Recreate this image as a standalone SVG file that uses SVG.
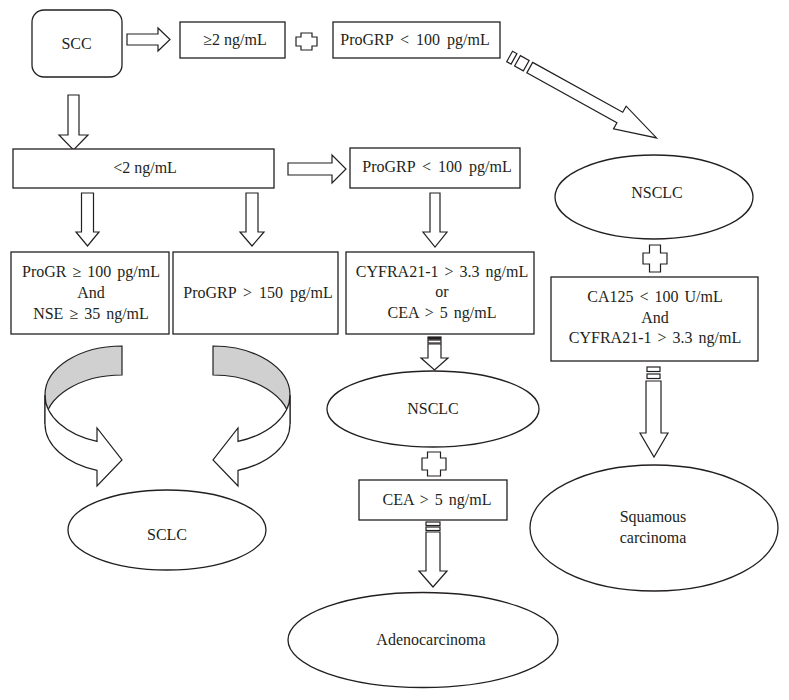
<svg xmlns="http://www.w3.org/2000/svg" width="789" height="700" viewBox="0 0 789 700">
<style>
.box{fill:#fff;stroke:#231f20;stroke-width:1.3}
.arr{fill:#fff;stroke:#231f20;stroke-width:1.2;stroke-linejoin:miter}
.gray{fill:#d0d0d0;stroke:#231f20;stroke-width:1.2}
.t{font-family:"Liberation Serif","Times New Roman",serif;font-size:16px;fill:#231f20;text-anchor:middle}
</style>
<rect width="789" height="700" fill="#fff"/>

<g id="connectors">
  <!-- SCC -> >=2 -->
  <polygon class="arr" points="127,34 158,34 158,28 170,39.5 158,51 158,45 127,45"/>
  <!-- plus between >=2 and ProGRP -->
  <path class="arr" d="M301,33 H312 V37 H317 V46 H312 V50 H301 V46 H296 V37 H301 Z"/>
  <!-- diagonal striped arrow to NSCLC -->
  <g transform="translate(507,55) rotate(29)">
    <rect class="arr" x="3" y="-6" width="5" height="12"/>
    <rect class="arr" x="12" y="-6" width="10" height="12"/>
    <polygon class="arr" points="26,-6 129,-6 129,-13 171,0 129,13 129,6 26,6"/>
  </g>
  <!-- SCC down -->
  <polygon class="arr" points="68,95 79,95 79,135 88,135 73.5,150 59,135 68,135"/>
  <!-- <2 -> ProGRP -->
  <polygon class="arr" points="288,163 332,163 332,155 346,169 332,183 332,175 288,175"/>
  <!-- <2 down left -->
  <polygon class="arr" points="81.5,193 93.5,193 93.5,232 99,232 87.5,246 76,232 81.5,232"/>
  <!-- <2 down right -->
  <polygon class="arr" points="246,193 258,193 258,232 264,232 252,246 240,232 246,232"/>
  <!-- ProGRP -> CYFRA -->
  <polygon class="arr" points="430,193 440,193 440,232 447,232 435,247 423,232 430,232"/>
  <!-- CYFRA -> NSCLC (striped) -->
  <rect class="arr" x="428" y="337" width="13" height="2" style="fill:#231f20"/>
  <rect class="arr" x="428" y="340" width="13" height="3"/>
  <polygon class="arr" points="428,344 441,344 441,358 448,358 434.5,370 421,358 428,358"/>
  <!-- plus NSCLC + CEA -->
  <path class="arr" d="M427.5,452 H440.5 V458 H446 V470 H440.5 V476 H427.5 V470 H422 V458 H427.5 Z"/>
  <!-- CEA -> Adenocarcinoma (striped) -->
  <rect class="arr" x="426" y="522" width="14" height="3.5"/>
  <rect class="arr" x="426" y="527" width="14" height="3.5"/>
  <polygon class="arr" points="426,532 440,532 440,571 447,571 433,587 419,571 426,571"/>
  <!-- plus NSCLC + CA125 -->
  <path class="arr" d="M649.5,245 H660.5 V253 H667 V264 H660.5 V272 H649.5 V264 H643 V253 H649.5 Z"/>
  <!-- CA125 -> Squamous (striped) -->
  <rect class="arr" x="647" y="367" width="13" height="4.5"/>
  <rect class="arr" x="647" y="374" width="13" height="4.5"/>
  <polygon class="arr" points="646,381 661,381 661,433 668,433 654,457 640,433 646,433"/>
  <!-- curved arrows to SCLC -->
  <path class="gray" d="M122,346 A77,49 0 0 0 45,395 L45,424 A77,49 0 0 1 122,375 Z"/>
  <path class="arr" d="M45,395 A77,49 0 0 0 97,441.4 L97,428 L122,460 L97,486 L97,470.4 A77,49 0 0 1 45,424 Z"/>
  <path class="gray" d="M213,346 A77,49 0 0 1 290,395 L290,424 A77,49 0 0 0 213,375 Z"/>
  <path class="arr" d="M290,395 A77,49 0 0 1 238,441.4 L238,428 L213,460 L238,486 L238,470.4 A77,49 0 0 0 290,424 Z"/>
</g>

<g id="scc">
  <rect class="box" x="32" y="10" width="90" height="67" rx="12"/>
  <text class="t" x="76.5" y="49">SCC</text>
</g>
<g id="ge2">
  <rect class="box" x="180" y="22" width="105" height="36"/>
  <text class="t" x="235" y="45">≥2 ng/mL</text>
</g>
<g id="progrp-top">
  <rect class="box" x="333" y="22" width="167" height="36"/>
  <text class="t" x="415" y="45" word-spacing="3">ProGRP &lt; 100 pg/mL</text>
</g>
<g id="lt2">
  <rect class="box" x="13" y="149" width="261" height="39"/>
  <text class="t" x="145" y="173">&lt;2 ng/mL</text>
</g>
<g id="progrp-mid">
  <rect class="box" x="350" y="148" width="170" height="40"/>
  <text class="t" x="437" y="172" word-spacing="3">ProGRP &lt; 100 pg/mL</text>
</g>
<g id="progr-nse">
  <rect class="box" x="11" y="252" width="158" height="82"/>
  <text class="t" x="91" y="277" word-spacing="2">ProGR ≥ 100 pg/mL</text>
  <text class="t" x="91" y="298">And</text>
  <text class="t" x="91" y="319" word-spacing="2">NSE ≥ 35 ng/mL</text>
</g>
<g id="progrp150">
  <rect class="box" x="173" y="252" width="165" height="82"/>
  <text class="t" x="258" y="298" word-spacing="3">ProGRP &gt; 150 pg/mL</text>
</g>
<g id="cyfra-cea">
  <rect class="box" x="346" y="252" width="188" height="82"/>
  <text class="t" x="442" y="277" word-spacing="2">CYFRA21-1 &gt; 3.3 ng/mL</text>
  <text class="t" x="442" y="297">or</text>
  <text class="t" x="442" y="318" word-spacing="2">CEA &gt; 5 ng/mL</text>
</g>
<g id="nsclc-top">
  <ellipse class="box" cx="654" cy="197" rx="99" ry="42"/>
  <text class="t" x="657" y="198">NSCLC</text>
</g>
<g id="ca125">
  <rect class="box" x="551" y="277" width="207" height="84"/>
  <text class="t" x="655" y="302" word-spacing="2">CA125 &lt; 100 U/mL</text>
  <text class="t" x="655" y="323">And</text>
  <text class="t" x="655" y="343" word-spacing="2">CYFRA21-1 &gt; 3.3 ng/mL</text>
</g>
<g id="nsclc-mid">
  <ellipse class="box" cx="433" cy="409" rx="106" ry="38"/>
  <text class="t" x="433" y="414">NSCLC</text>
</g>
<g id="cea">
  <rect class="box" x="359" y="480" width="148" height="40"/>
  <text class="t" x="437" y="505" word-spacing="2">CEA &gt; 5 ng/mL</text>
</g>
<g id="sclc">
  <ellipse class="box" cx="167" cy="530" rx="99" ry="40"/>
  <text class="t" x="167" y="540">SCLC</text>
</g>
<g id="adeno">
  <ellipse class="box" cx="423" cy="640" rx="135" ry="47.5"/>
  <text class="t" x="431" y="645">Adenocarcinoma</text>
</g>
<g id="squamous">
  <ellipse class="box" cx="654" cy="528" rx="124" ry="63"/>
  <text class="t" x="653" y="522">Squamous</text>
  <text class="t" x="653" y="543">carcinoma</text>
</g>
</svg>
